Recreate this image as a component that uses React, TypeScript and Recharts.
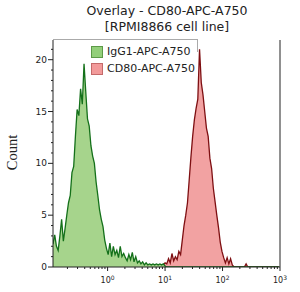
import React from 'react';
import { ComposedChart, Area, XAxis, YAxis, ReferenceLine } from 'recharts';

// log10 bins of the fluorescence axis
const binStart = -0.95;
const binWidth = 0.03;
const binCount = 132;

// IgG1 isotype control, counts per bin from the left edge
const igg1Counts = [
  2.2, 3.1, 2.0, 1.6, 3.0, 4.6, 2.5, 3.7, 5.0, 6.2,
  6.9, 9.1, 9.7, 12.6, 15.2, 14.6, 17.2, 15.7, 19.6, 16.9,
  14.3, 13.6, 11.7, 10.7, 10.0, 8.2, 6.9, 5.5, 4.6, 3.9,
  2.6, 1.8, 1.2, 2.3, 1.0, 2.0, 1.2, 1.6, 0.9, 2.0,
  1.0, 1.3, 0.9, 0.6, 1.2, 0.7, 1.4, 0.5, 1.0, 0.4,
  0.6, 0.3, 0.5, 0.2, 0.4, 0.2, 0.3, 0.2, 0.3, 0.2,
  0.3, 0.2, 0.3, 0.2, 0.3, 0.1, 0,
];

// CD80 stained cells, counts per bin starting at cd80StartBin
const cd80StartBin = 64;
const cd80Counts = [
  0.2, 0.4, 0.3, 0.8, 0.4, 1.3, 0.6, 1.0, 0.7, 1.5,
  1.2, 2.6, 4.0, 5.0, 6.2, 8.4, 10.6, 12.6, 14.2, 15.3,
  16.2, 21.0, 17.8, 16.6, 15.0, 13.4, 12.6, 10.5, 9.5, 7.6,
  6.3, 5.0, 3.8, 2.4, 1.5, 0.9, 0.4, 0.9, 0.3, 0.8,
  0.2, 0, 0, 0, 0, 0, 0, 0, 0.3, 0,
];

const yTicks = [0, 1, 2, 3, 4, 5, 6, 7, 8, 9, 10, 11, 12, 13, 14, 15, 16, 17, 18, 19, 20, 21];
const yLabelled = [0, 5, 10, 15, 20];
const decades = [0, 1, 2, 3];
const minorMultipliers = [2, 3, 4, 5, 6, 7, 8, 9];

const rows = Array.from({ length: binCount }, (_, i) => ({
  x: binStart + i * binWidth,
  igg1: igg1Counts[i] ?? 0,
  cd80: cd80Counts[i - cd80StartBin] ?? 0,
}));

const xTicks: number[] = [...decades];
[-1, 0, 1, 2].forEach((d) => {
  minorMultipliers.forEach((m) => {
    const v = d + Math.log10(m);
    if (v >= binStart) xTicks.push(v);
  });
});

const font = '"DejaVu Sans", sans-serif';

const YTick = (props: any) => {
  const { x, y, payload } = props;
  const major = yLabelled.includes(payload.value);
  return (
    <g>
      <line x1={x - (major ? 5 : 2)} x2={x} y1={y} y2={y} stroke="#222" />
      {major && (
        <text x={x - 6} y={y + 3} textAnchor="end" fontSize={9} fontFamily={font} fill="#222">
          {payload.value}
        </text>
      )}
    </g>
  );
};

const XTick = (props: any) => {
  const { x, y, payload } = props;
  const major = decades.includes(payload.value);
  return (
    <g>
      <line x1={x} x2={x} y1={y} y2={y + (major ? 4 : 2)} stroke="#222" />
      {major && (
        <text x={x} y={y + 16} textAnchor="middle" fontSize={8} fontFamily={font} fill="#222">
          10
          <tspan dy={-3} fontSize={6}>{payload.value}</tspan>
        </text>
      )}
    </g>
  );
};

const Swatch = ({ fill, border }: { fill: string; border: string }) => (
  <span style={{ display: 'inline-block', width: 10, height: 10, background: fill, border: `1px solid ${border}`, marginRight: 4 }} />
);

export default function App() {
  return (
    <div style={{ position: 'absolute', left: 0, top: 0, width: 300, height: 292, background: '#fff' }}>
      <div style={{ position: 'absolute', left: 17, width: 300, top: 3, textAlign: 'center', fontFamily: font, fontSize: 12.5, lineHeight: '16px', color: '#222' }}>
        Overlay - CD80-APC-A750
        <br />
        [RPMI8866 cell line]
      </div>
      <div style={{ position: 'absolute', left: -8, top: 144, width: 40, textAlign: 'center', transform: 'rotate(-90deg)', fontFamily: '"Liberation Serif", serif', fontSize: 14.5, color: '#222' }}>
        Count
      </div>
      <ComposedChart width={300} height={292} data={rows} margin={{ top: 40, right: 20, bottom: 0, left: 0 }}>
        <XAxis
          dataKey="x"
          type="number"
          domain={[binStart, 3]}
          ticks={xTicks}
          interval={0}
          tick={<XTick />}
          tickSize={0}
          tickMargin={0}
          tickLine={false}
          height={25}
          stroke="#222"
          allowDataOverflow
        />
        <YAxis
          type="number"
          domain={[0, 21.9]}
          ticks={yTicks}
          interval={0}
          tick={<YTick />}
          tickSize={0}
          tickMargin={0}
          tickLine={false}
          width={53}
          stroke="#222"
          allowDataOverflow
        />
        <ReferenceLine x={3} stroke="#222" />
        <Area type="linear" dataKey="cd80" stroke="#7e0f12" strokeWidth={1.3} fill="#f2a2a2" fillOpacity={1} isAnimationActive={false} dot={false} activeDot={false} />
        <Area type="linear" dataKey="igg1" stroke="#14701a" strokeWidth={1.3} fill="#a6d48c" fillOpacity={1} isAnimationActive={false} dot={false} activeDot={false} />
      </ComposedChart>
      <div style={{ position: 'absolute', left: 53, top: 39, width: 144, height: 12, borderTop: '1px solid #aaa', borderRight: '1px solid #aaa' }} />
      <div style={{ position: 'absolute', left: 91, top: 43, fontFamily: font, fontSize: 11, lineHeight: '17px', color: '#222', background: '#fff' }}>
        <div style={{ display: 'flex', alignItems: 'center' }}>
          <Swatch fill="#93cf7a" border="#5d9a48" />IgG1-APC-A750
        </div>
        <div style={{ display: 'flex', alignItems: 'center' }}>
          <Swatch fill="#f29a9a" border="#c46a6a" />CD80-APC-A750
        </div>
      </div>
    </div>
  );
}
